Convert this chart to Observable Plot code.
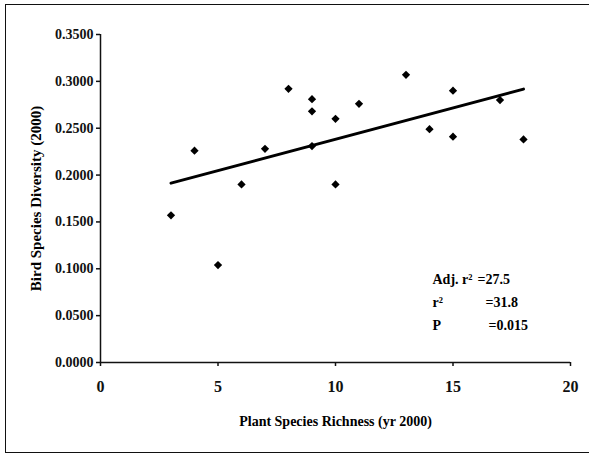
<!DOCTYPE html>
<html>
<head>
<meta charset="utf-8">
<script src="https://cdn.jsdelivr.net/npm/d3@7"></script>
<script src="https://cdn.jsdelivr.net/npm/@observablehq/plot@0.6"></script>
<style>
  html, body { margin: 0; padding: 0; background: #fff; }
  #wrap { position: relative; width: 589px; height: 454px; }
  #border { position: absolute; left: 5px; top: 4px; width: 590px; height: 447px;
            border-left: 1.5px solid #111; border-top: 1.5px solid #111; border-bottom: 1.5px solid #111; pointer-events: none; }
</style>
</head>
<body>
<div id="wrap"><div id="border"></div></div>
<script>
const plantRichness = [3, 4, 5, 6, 7, 8, 9, 9, 9, 10, 10, 11, 13, 14, 15, 15, 17, 18];
const birdDiversity = [0.157, 0.226, 0.104, 0.190, 0.228, 0.292, 0.281, 0.268, 0.231, 0.260, 0.190, 0.276, 0.307, 0.249, 0.290, 0.241, 0.280, 0.238];
const xTicks = [0, 5, 10, 15, 20];
const yTicks = [0, 0.05, 0.10, 0.15, 0.20, 0.25, 0.30, 0.35];
const statLabels = ["Adj. r\u00B2", "r\u00B2", "P"];
const statValues = ["=27.5", "=31.8", "=0.015"];

const data = plantRichness.map((x, i) => ({x, y: birdDiversity[i]}));
const stats = statLabels.map((label, i) => ({label, value: statValues[i]}));

const font = "'Liberation Serif', 'Times New Roman', serif";
const valueDx = [45, 53, 56];

const chart = Plot.plot({
  width: 589,
  height: 454,
  marginLeft: 100,
  marginRight: 19,
  marginTop: 34,
  marginBottom: 92,
  style: {fontFamily: font, background: "transparent", color: "#111"},
  x: {domain: [0, 20], ticks: xTicks, label: null},
  y: {domain: [0, 0.35], ticks: yTicks, label: null},
  marks: [
    Plot.axisY({ticks: yTicks, tickSize: 4, tickPadding: 3, tickFormat: d3.format(".4f"),
      fontSize: 14, fontWeight: "bold", letterSpacing: "0.5px", strokeWidth: 1.5, label: null}),
    Plot.axisX({ticks: xTicks, tickSize: 4, tickPadding: 14, tickFormat: d => String(d),
      fontSize: 16, fontWeight: "bold", strokeWidth: 1.5, label: null}),
    Plot.ruleX([0], {stroke: "#111", strokeWidth: 1.5}),
    Plot.ruleY([0], {stroke: "#111", strokeWidth: 1.5}),
    Plot.linearRegressionY(data, {x: "x", y: "y", ci: 0, stroke: "#000", strokeWidth: 3}),
    Plot.dot(data, {x: "x", y: "y", symbol: "square", rotate: 45, r: 3.3, fill: "#000", stroke: null}),
    ...stats.map((s, i) => Plot.text([s], {text: "label", frameAnchor: "top-left", dx: 332, dy: 245 + i * 23,
      textAnchor: "start", lineAnchor: "middle", fontSize: 14, fontWeight: "bold", fill: "#000"})),
    ...stats.map((s, i) => Plot.text([s], {text: "value", frameAnchor: "top-left", dx: 332 + valueDx[i], dy: 245 + i * 23,
      textAnchor: "start", lineAnchor: "middle", fontSize: 14, fontWeight: "bold", fill: "#000", letterSpacing: "-0.3px"})),
    Plot.text(["Plant Species Richness (yr 2000)"], {frameAnchor: "bottom", dy: 59, lineAnchor: "middle",
      fontSize: 14, fontWeight: "bold", letterSpacing: "-0.4px", fill: "#000"}),
    Plot.text(["Bird Species Diversity (2000)"], {frameAnchor: "left", dx: -64, rotate: -90,
      textAnchor: "middle", lineAnchor: "middle", fontSize: 15, fontWeight: "bold", fill: "#000"})
  ]
});
document.getElementById("wrap").appendChild(chart);
</script>
</body>
</html>
